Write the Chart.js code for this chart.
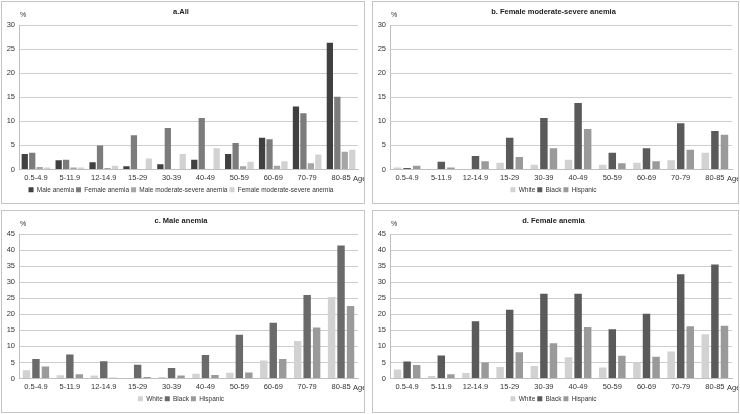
<!DOCTYPE html>
<html>
<head>
<meta charset="utf-8">
<script src="https://cdn.jsdelivr.net/npm/chart.js@4.4.0/dist/chart.umd.min.js"></script>
<style>
  body { margin: 0; background: #fff; width: 740px; height: 414px; position: relative; overflow: hidden; }
  .panel { position: absolute; border: 1px solid #c4c4c4; box-sizing: border-box; background: #fff; }
  #pa { left: 1px; top: 1px; width: 364px; height: 203px; }
  #pb { left: 372px; top: 1px; width: 367px; height: 203px; }
  #pc { left: 1px; top: 210px; width: 364px; height: 203px; }
  #pd { left: 372px; top: 210px; width: 367px; height: 203px; }
</style>
</head>
<body>
<div class="panel" id="pa"><canvas id="ca"></canvas></div>
<div class="panel" id="pb"><canvas id="cb"></canvas></div>
<div class="panel" id="pc"><canvas id="cc"></canvas></div>
<div class="panel" id="pd"><canvas id="cd"></canvas></div>
<script>
const ages = ['0.5-4.9','5-11.9','12-14.9','15-29','30-39','40-49','50-59','60-69','70-79','80-85']

// a. All
const maleAnemia = [3.2, 1.9, 1.5, 0.7, 1.1, 2.0, 3.2, 6.6, 13.1, 26.3]
const femaleAnemia = [3.5, 2.0, 5.0, 7.1, 8.6, 10.7, 5.5, 6.3, 11.7, 15.1]
const maleModSevere = [0.5, 0.4, 0.3, 0, 0, 0, 0.7, 0.8, 1.3, 3.7]
const femaleModSevere = [0.4, 0.4, 0.8, 2.3, 3.2, 4.4, 1.6, 1.7, 3.1, 4.1]

// b. Female moderate-severe anemia
const bWhite = [0.4, 0.1, 0, 1.4, 1.0, 2.0, 1.0, 1.4, 1.9, 3.5]
const bBlack = [0.3, 1.6, 2.8, 6.6, 10.7, 13.8, 3.5, 4.4, 9.6, 8.0]
const bHispanic = [0.8, 0.4, 1.7, 2.6, 4.4, 8.4, 1.3, 1.7, 4.1, 7.2]

// c. Male anemia
const cWhite = [2.6, 1.0, 0.9, 0, 0.5, 1.5, 1.8, 5.6, 11.7, 25.4]
const cBlack = [6.1, 7.5, 5.4, 4.3, 3.3, 7.3, 13.6, 17.4, 26.0, 41.4]
const cHispanic = [3.7, 1.3, 0.2, 0.5, 0.9, 1.1, 1.9, 6.1, 15.9, 22.6]

// d. Female anemia
const dWhite = [2.8, 0.8, 1.7, 3.6, 3.9, 6.6, 3.4, 5.0, 8.4, 13.8]
const dBlack = [5.3, 7.2, 17.8, 21.4, 26.4, 26.4, 15.3, 20.2, 32.5, 35.5]
const dHispanic = [4.2, 1.3, 5.0, 8.2, 11.0, 16.0, 7.1, 6.8, 16.3, 16.4]

const FONT = "'Liberation Sans', Arial, sans-serif"
Chart.defaults.font.family = FONT
Chart.defaults.font.size = 7.5
Chart.defaults.color = '#333'

// "%" over the y axis and "Age" after the last category
const axisText = {
  id: 'axisText',
  afterDraw(chart) {
    const c = chart.ctx, a = chart.chartArea
    c.save()
    c.fillStyle = '#333'
    c.font = '7px ' + FONT
    c.textBaseline = 'middle'
    c.textAlign = 'left'
    c.fillText('%', a.left + 1, a.top - 10)
    c.font = '7.5px ' + FONT
    c.fillText('Age', a.right - 5, a.bottom + 9)
    c.restore()
  }
}

function makeChart(id, title, sets, max, catPct, barPct) {
  return new Chart(document.getElementById(id), {
    type: 'bar',
    data: {
      labels: ages,
      datasets: sets.map(s => ({
        label: s[0], data: s[1], backgroundColor: s[2],
        categoryPercentage: catPct, barPercentage: barPct
      }))
    },
    options: {
      responsive: true,
      maintainAspectRatio: false,
      animation: false,
      layout: { padding: { left: 2, right: 6, top: 0, bottom: 0 } },
      plugins: {
        title: { display: true, text: title, color: '#222', font: { size: 7.5, weight: 'bold' }, padding: { top: 5, bottom: 9 } },
        legend: {
          position: 'bottom',
          labels: { boxWidth: 5, boxHeight: 5, padding: 2, color: '#333', font: { size: 6.5 } }
        },
        tooltip: { enabled: false }
      },
      scales: {
        x: {
          grid: { display: false, drawTicks: false },
          border: { color: '#bfbfbf' },
          ticks: { color: '#333', maxRotation: 0, padding: 4 },
          afterFit: s => { s.height = 15 }
        },
        y: {
          min: 0, max: max,
          ticks: { stepSize: 5, color: '#333', padding: 4 },
          grid: { color: '#cdcdcd', drawTicks: false, lineWidth: 1 },
          border: { color: '#bfbfbf' },
          afterFit: s => { s.width = 15 }
        }
      }
    },
    plugins: [axisText]
  })
}

const whiteCol = '#d2d2d2', blackCol = '#5a5a5a', hispCol = '#9a9a9a'

makeChart('ca', 'a.All', [
  ['Male anemia', maleAnemia, '#404040'],
  ['Female anemia', femaleAnemia, '#7c7c7c'],
  ['Male moderate-severe anemia', maleModSevere, '#a5a5a5'],
  ['Female moderate-severe anemia', femaleModSevere, '#d2d2d2']
], 30, 0.88, 0.84)

makeChart('cb', 'b. Female moderate-severe anemia', [
  ['White', bWhite, whiteCol],
  ['Black', bBlack, blackCol],
  ['Hispanic', bHispanic, hispCol]
], 30, 0.84, 0.78)

makeChart('cc', 'c. Male anemia', [
  ['White', cWhite, whiteCol],
  ['Black', cBlack, '#6a6a6a'],
  ['Hispanic', cHispanic, hispCol]
], 45, 0.84, 0.78)

makeChart('cd', 'd. Female anemia', [
  ['White', dWhite, whiteCol],
  ['Black', dBlack, blackCol],
  ['Hispanic', dHispanic, hispCol]
], 45, 0.84, 0.78)
</script>
</body>
</html>
